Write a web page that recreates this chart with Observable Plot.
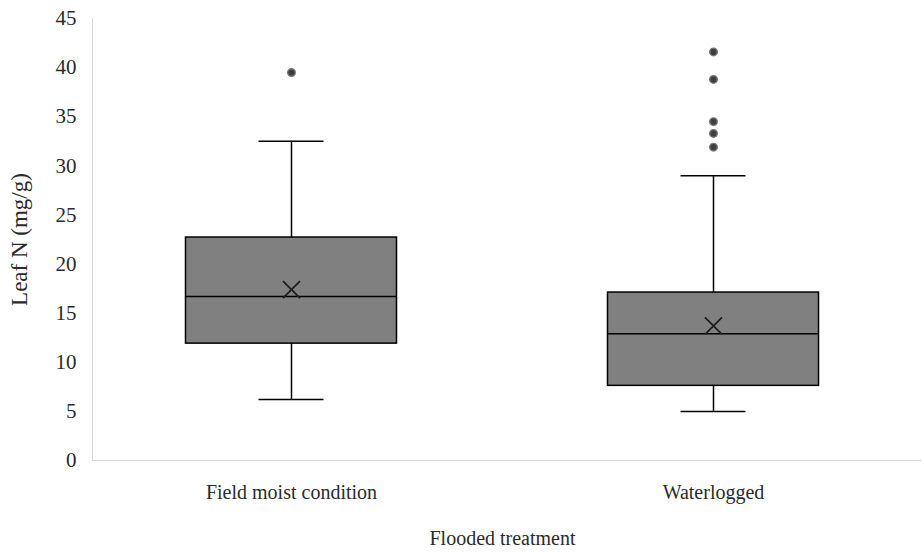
<!DOCTYPE html>
<html>
<head>
<meta charset="utf-8">
<script src="https://cdn.jsdelivr.net/npm/d3@7"></script>
<script src="https://cdn.jsdelivr.net/npm/@observablehq/plot@0.6"></script>
<style>
  body { margin: 0; background: #fff; }
  #chart svg { display: block; }
</style>
</head>
<body>
<div id="chart"></div>
<script>
// Leaf nitrogen by flooding treatment: box-and-whisker summaries
const categories = ["Field moist condition", "Waterlogged"];
const whiskerLow = [6.2, 5.0];
const q1 = [11.9, 7.6];
const median = [16.7, 12.9];
const q3 = [22.7, 17.1];
const whiskerHigh = [32.5, 29.0];
const mean = [17.4, 13.7];
const outliers = [
  [39.5],
  [41.6, 38.8, 34.5, 33.3, 31.9]
];
const yTicks = [0, 5, 10, 15, 20, 25, 30, 35, 40, 45];

const boxes = categories.map((treatment, i) => ({
  treatment,
  low: whiskerLow[i],
  q1: q1[i],
  median: median[i],
  q3: q3[i],
  high: whiskerHigh[i],
  mean: mean[i]
}));
const outlierRows = categories.flatMap((treatment, i) =>
  outliers[i].map(value => ({treatment, value}))
);

const axisColor = "#d9d9d9";
const boxInset = 105.5;
const capInset = 178.5;

const chart = Plot.plot({
  width: 924,
  height: 552,
  marginLeft: 80,
  marginRight: 0,
  marginTop: 18,
  marginBottom: 92,
  style: {fontFamily: "'Liberation Serif', 'Times New Roman', serif", fontSize: "20px", color: "#2b2b2b", background: "#fff"},
  x: {domain: categories, padding: 0, label: null},
  y: {domain: [0, 45], label: null},
  marks: [
    Plot.frame({anchor: "left", stroke: axisColor, dx: 12}),
    Plot.ruleY([0], {stroke: axisColor, insetLeft: 12, insetRight: 2}),
    Plot.axisY({ticks: yTicks, tickSize: 0, tickPadding: 4, fontSize: 21, label: null}),
    Plot.axisY({ticks: [], tickSize: 0, fontSize: 23, label: "Leaf N (mg/g)", labelAnchor: "center", labelArrow: "none", labelOffset: 70}),
    Plot.axisX({tickSize: 0, tickPadding: 24, label: "Flooded treatment", labelAnchor: "center", labelArrow: "none", labelOffset: 84}),
    // whiskers
    Plot.ruleX(boxes, {x: "treatment", y1: "q3", y2: "high", stroke: "#000", strokeWidth: 1.5}),
    Plot.ruleX(boxes, {x: "treatment", y1: "low", y2: "q1", stroke: "#000", strokeWidth: 1.5}),
    Plot.tickY(boxes, {x: "treatment", y: "high", stroke: "#000", strokeWidth: 1.5, insetLeft: capInset, insetRight: capInset}),
    Plot.tickY(boxes, {x: "treatment", y: "low", stroke: "#000", strokeWidth: 1.5, insetLeft: capInset, insetRight: capInset}),
    // interquartile box and median
    Plot.barY(boxes, {x: "treatment", y1: "q1", y2: "q3", fill: "#808080", stroke: "#000", strokeWidth: 1.5, insetLeft: boxInset, insetRight: boxInset}),
    Plot.tickY(boxes, {x: "treatment", y: "median", stroke: "#000", strokeWidth: 1.5, insetLeft: boxInset, insetRight: boxInset}),
    // mean marker
    Plot.dot(boxes, {x: "treatment", y: "mean", symbol: "times", r: 7.8, stroke: "#1f1f1f", strokeWidth: 1.8}),
    // outliers
    Plot.dot(outlierRows, {x: "treatment", y: "value", r: 3.8, fill: "#3f3f3f", stroke: "#7a7a7a", strokeWidth: 1.4})
  ]
});

document.getElementById("chart").append(chart);
</script>
</body>
</html>
